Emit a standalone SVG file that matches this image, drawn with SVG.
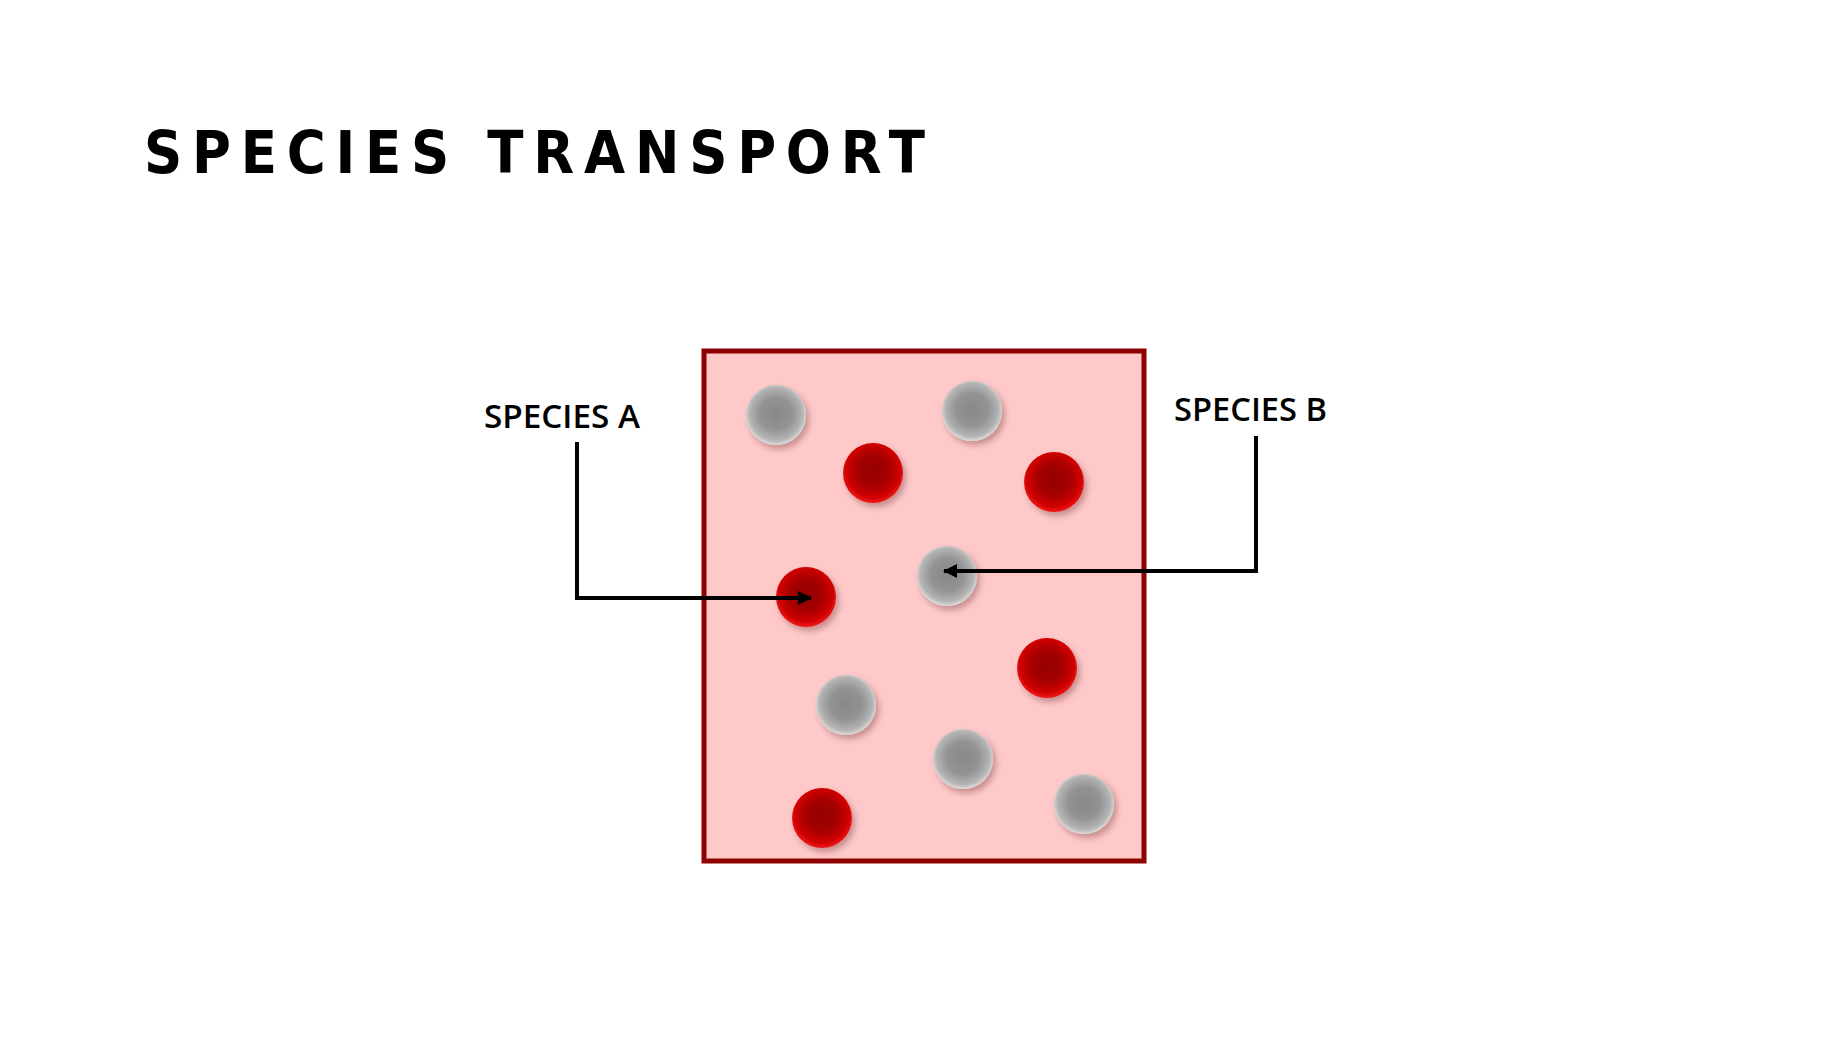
<svg xmlns="http://www.w3.org/2000/svg" width="1848" height="1040" viewBox="0 0 1848 1040">
<defs>
<style>
.title{font-family:"DejaVu Sans","Liberation Sans",sans-serif;font-weight:bold;font-stretch:condensed;font-size:59px;fill:#000}
.label{font-family:"Open Sans","Noto Sans","Liberation Sans",sans-serif;font-weight:600;font-size:32px;fill:#000}
.conn{fill:none;stroke:#000;stroke-width:4;stroke-linejoin:miter}
.red{fill:url(#gRed);filter:url(#sh)}
.gray{fill:url(#gGray);filter:url(#sh)}
</style>
<radialGradient id="gRed" cx="50%" cy="46%" r="54%">
<stop offset="0" stop-color="#930000"/>
<stop offset="0.5" stop-color="#a60000"/>
<stop offset="0.82" stop-color="#cf0000"/>
<stop offset="1" stop-color="#f01818"/>
</radialGradient>
<radialGradient id="gGray" cx="50%" cy="48%" r="54%">
<stop offset="0" stop-color="#888888"/>
<stop offset="0.5" stop-color="#939393"/>
<stop offset="0.82" stop-color="#b4b4b4"/>
<stop offset="1" stop-color="#e6e6e6"/>
</radialGradient>
<filter id="sh" x="-30%" y="-30%" width="170%" height="170%">
<feDropShadow dx="3" dy="4" stdDeviation="3" flood-color="#400000" flood-opacity="0.3"/>
</filter>
<marker id="arr" viewBox="0 0 14 14" refX="13" refY="7" markerWidth="14" markerHeight="14" markerUnits="userSpaceOnUse" orient="auto">
<path d="M0,0 L14,7 L0,14 z" fill="#000"/>
</marker>
</defs>
<rect width="1848" height="1040" fill="#fff"/>
<text id="title" class="title" x="144" y="173" textLength="781" lengthAdjust="spacing">SPECIES TRANSPORT</text>
<g id="box">
<rect x="704" y="351" width="440" height="510" fill="#ffc9c9" stroke="#8f0000" stroke-width="5"/>
</g>
<g id="particles">
<circle class="gray" cx="776" cy="415" r="30"/>
<circle class="gray" cx="972" cy="411" r="30"/>
<circle class="red" cx="873" cy="473" r="30"/>
<circle class="red" cx="1054" cy="482" r="30"/>
<circle class="gray" cx="947" cy="576" r="30"/>
<circle class="red" cx="806" cy="597" r="30"/>
<circle class="red" cx="1047" cy="668" r="30"/>
<circle class="gray" cx="846" cy="705" r="30"/>
<circle class="gray" cx="963" cy="759" r="30"/>
<circle class="red" cx="822" cy="818" r="30"/>
<circle class="gray" cx="1084" cy="804" r="30"/>
</g>
<g id="label-a">
<text class="label" x="484" y="428" textLength="156" lengthAdjust="spacingAndGlyphs">SPECIES A</text>
</g>
<g id="label-b">
<text class="label" x="1174" y="421" textLength="153" lengthAdjust="spacingAndGlyphs">SPECIES B</text>
</g>
<g id="connectors">
<path class="conn" d="M577,442 V598 H811" marker-end="url(#arr)"/>
<path class="conn" d="M1256,436 V571 H944" marker-end="url(#arr)"/>
</g>
</svg>
